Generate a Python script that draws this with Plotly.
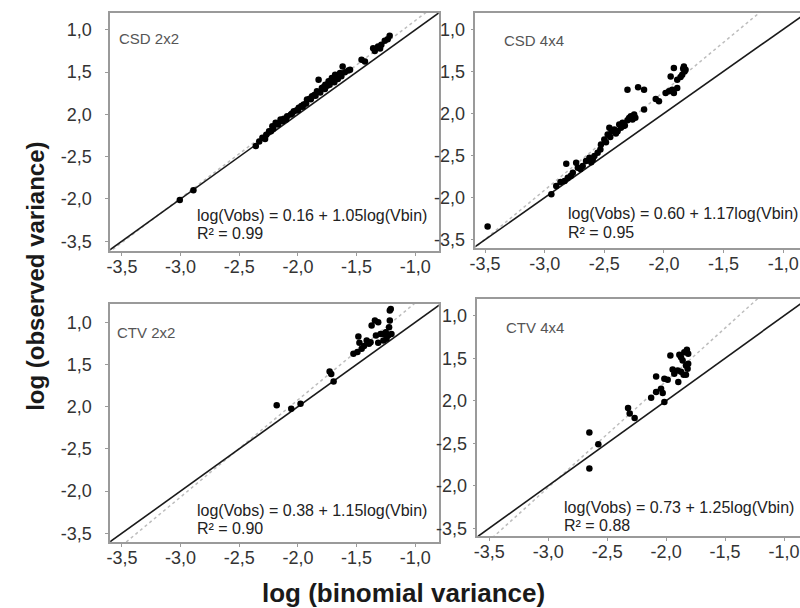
import plotly.graph_objects as go

# ---------------- data ----------------
panel_names = ["CSD 2x2", "CSD 4x4", "CTV 2x2", "CTV 4x4"]
intercepts = [0.16, 0.60, 0.38, 0.73]
slopes = [1.05, 1.17, 1.15, 1.25]
r_squared = ["0.99", "0.95", "0.90", "0.88"]

x_tick_vals = [-3.5, -3.0, -2.5, -2.0, -1.5, -1.0]
x_tick_text = ["-3,5", "-3,0", "-2,5", "-2,0", "-1,5", "-1,0"]
y_tick_vals = [-1.0, -1.5, -2.0, -2.5, -3.0, -3.5]
y_tick_text = ["1,0", "1,5", "2,0", "-2,5", "-2,0", "-3,5"]

csd22_x = [-3.007, -2.891, -2.359, -2.303, -2.246, -2.218, -2.190, -2.210, -2.148, -2.120,
           -2.092, -2.060, -2.035, -2.010, -1.993, -1.970, -1.951, -1.923, -1.900, -1.880,
           -1.860, -1.838, -1.824, -1.796, -1.780, -1.767, -1.750, -1.739, -1.711, -1.700,
           -1.683, -1.641, -1.619, -1.556, -1.458, -1.429, -1.359, -1.345, -1.317, -1.289,
           -1.300, -1.260, -1.218, -1.235, -2.280, -2.170,
           -2.270, -2.230, -2.170, -2.130, -2.100, -2.050, -2.000, -1.960, -1.930, -1.890,
           -1.850, -1.810, -1.770, -1.730, -1.690, -1.660, -1.630, -1.600, -2.330, -1.570]
csd22_y = [-3.013, -2.896, -2.374, -2.276, -2.198, -2.139, -2.099, -2.170, -2.060, -2.050,
           -2.021, -2.000, -1.962, -1.950, -1.922, -1.900, -1.883, -1.824, -1.815, -1.786,
           -1.770, -1.727, -1.589, -1.687, -1.675, -1.648, -1.660, -1.609, -1.569, -1.600,
           -1.530, -1.510, -1.432, -1.471, -1.353, -1.373, -1.216, -1.250, -1.196, -1.177,
           -1.220, -1.130, -1.071, -1.110, -2.290, -2.110,
           -2.240, -2.200, -2.120, -2.080, -2.060, -1.990, -1.950, -1.910, -1.870, -1.820,
           -1.780, -1.740, -1.700, -1.650, -1.620, -1.580, -1.550, -1.500, -2.320, -1.480]

csd44_x = [-3.478, -2.944, -2.903, -2.867, -2.833, -2.819, -2.806, -2.764, -2.736, -2.722,
           -2.681, -2.653, -2.625, -2.597, -2.583, -2.556, -2.533, -2.528, -2.500, -2.486,
           -2.472, -2.458, -2.439, -2.417, -2.403, -2.389, -2.375, -2.361, -2.347, -2.328,
           -2.306, -2.292, -2.278, -2.250, -2.264, -2.306, -2.217, -2.167, -2.167, -2.069,
           -2.042, -1.986, -1.958, -1.931, -1.917, -1.889, -1.944, -1.917, -1.889, -1.861,
           -1.847, -1.833, -1.828, -1.819, -1.839,
           -2.780, -2.700, -2.610, -2.450, -2.340, -2.240]
csd44_y = [-3.342, -2.960, -2.861, -2.814, -2.802, -2.597, -2.763, -2.703, -2.585, -2.644,
           -2.625, -2.565, -2.526, -2.546, -2.506, -2.467, -2.427, -2.368, -2.309, -2.341,
           -2.250, -2.171, -2.211, -2.191, -2.238, -2.211, -2.132, -2.171, -2.112, -2.144,
           -2.080, -2.053, -2.033, -2.013, -2.073, -1.718, -1.690, -1.718, -1.954, -1.828,
           -1.856, -1.757, -1.737, -1.718, -1.757, -1.698, -1.560, -1.461, -1.599, -1.568,
           -1.540, -1.442, -1.501, -1.481, -1.470,
           -2.740, -2.660, -2.580, -2.280, -2.150, -2.050]

ctv22_x = [-2.181, -2.057, -1.978, -1.730, -1.716, -1.696, -1.527, -1.493, -1.485, -1.476,
           -1.457, -1.437, -1.414, -1.395, -1.381, -1.372, -1.344, -1.316, -1.335, -1.316,
           -1.296, -1.268, -1.251, -1.231, -1.223, -1.217, -1.217, -1.209, -1.203, -1.245,
           -1.272]
ctv22_y = [-1.984, -2.024, -1.965, -1.583, -1.614, -1.701, -1.374, -1.354, -1.169, -1.244,
           -1.315, -1.283, -1.217, -1.256, -1.236, -1.039, -0.980, -1.000, -1.157, -1.244,
           -1.138, -1.138, -1.118, -1.157, -1.059, -0.980, -0.862, -0.843, -1.138, -1.197,
           -1.217]

ctv44_x = [-2.651, -2.651, -2.575, -2.323, -2.309, -2.267, -2.127, -2.085, -2.043, -2.029,
           -2.085, -2.015, -1.987, -2.015, -1.964, -1.945, -1.931, -1.902, -1.897, -1.888,
           -1.874, -1.860, -1.846, -1.832, -1.832, -1.824, -1.818, -1.813, -1.813, -1.852,
           -1.874]
ctv44_y = [-2.375, -2.797, -2.512, -2.086, -2.152, -2.203, -1.965, -1.898, -1.859, -1.910,
           -1.715, -1.742, -1.754, -2.016, -1.469, -1.633, -1.684, -1.645, -1.781, -1.461,
           -1.488, -1.527, -1.430, -1.586, -1.695, -1.402, -1.625, -1.566, -1.449, -1.695,
           -1.660]

series_x = [csd22_x, csd44_x, ctv22_x, ctv44_x]
series_y = [csd22_y, csd44_y, ctv22_y, ctv44_y]

# ---------------- layout specs ----------------
W, H = 800, 608
# (left, right, top, bottom) in pixels
boxes = [(105, 436, 13, 252), (473, 800, 13, 249), (105, 436, 305, 544), (475, 800, 300, 538)]
x_ranges = [[-3.60, -0.80], [-3.58, -0.86], [-3.60, -0.80], [-3.60, -0.865]]
y_ranges = [[-3.618, -0.80], [-3.60, -0.807], [-3.606, -0.784], [-3.594, -0.804]]
mirror_y = [True, False, True, False]
# annotation positions in axis-domain fractions
label_pos = [(0.021, 0.891), (0.083, 0.881), (0.015, 0.879), (0.083, 0.878)]
eq_pos = [(0.257, 0.151, 0.075), (0.278, 0.148, 0.068), (0.257, 0.134, 0.059), (0.262, 0.122, 0.046)]

FONT = "Liberation Sans, Arial, sans-serif"
AX_COLOR = "#9a9a9a"

fig = go.Figure()
layout = dict(width=W, height=H, margin=dict(l=0, r=0, t=0, b=0),
              paper_bgcolor="white", plot_bgcolor="white", showlegend=False,
              font=dict(family=FONT, color="#333"))
annotations = []

for i in range(4):
    n = "" if i == 0 else str(i + 1)
    xa, ya = "x" + n, "y" + n
    l, r, t, b = boxes[i]
    layout["xaxis" + n] = dict(
        domain=[l / W, r / W], range=x_ranges[i], anchor=ya,
        tickvals=x_tick_vals, ticktext=x_tick_text, ticks="outside", ticklen=3,
        ticklabelstandoff=-5,
        tickcolor=AX_COLOR, tickwidth=1, showgrid=False, zeroline=False,
        showline=True, linecolor=AX_COLOR, linewidth=1.5, mirror=True,
        tickfont=dict(size=18, color="#333", family=FONT))
    layout["yaxis" + n] = dict(
        domain=[1 - b / H, 1 - t / H], range=y_ranges[i], anchor=xa,
        tickvals=y_tick_vals, ticktext=y_tick_text, ticks="outside", ticklen=3,
        ticklabelstandoff=10 if i in (0, 2) else 2,
        tickcolor=AX_COLOR, tickwidth=1, showgrid=False, zeroline=False,
        showline=True, linecolor=AX_COLOR, linewidth=1.5, mirror=mirror_y[i],
        tickfont=dict(size=18, color="#333", family=FONT))

    x0, x1 = x_ranges[i][0] - 0.1, x_ranges[i][1] + 0.1
    a, s = intercepts[i], slopes[i]
    # regression (dotted grey)
    fig.add_trace(go.Scatter(x=[x0, x1], y=[a + s * x0, a + s * x1], mode="lines",
                             line=dict(color="#bdbdbd", width=1.5, dash="dot"),
                             xaxis=xa, yaxis=ya, hoverinfo="skip"))
    # identity (solid black)
    fig.add_trace(go.Scatter(x=[x0, x1], y=[x0, x1], mode="lines",
                             line=dict(color="#1a1a1a", width=1.6),
                             xaxis=xa, yaxis=ya, hoverinfo="skip"))
    # points
    fig.add_trace(go.Scatter(x=series_x[i], y=series_y[i], mode="markers",
                             marker=dict(color="black", size=6.5),
                             xaxis=xa, yaxis=ya, cliponaxis=False))

    lx, ly = label_pos[i]
    annotations.append(dict(text=panel_names[i], xref=xa + " domain", yref=ya + " domain",
                            x=lx, y=ly, xanchor="left", yanchor="middle", showarrow=False,
                            font=dict(size=15, color="#555", family=FONT)))
    ex, ey1, ey2 = eq_pos[i]
    annotations.append(dict(text=f"log(Vobs) = {a:.2f} + {s:.2f}log(Vbin)",
                            xref=xa + " domain", yref=ya + " domain",
                            x=ex, y=ey1, xanchor="left", yanchor="middle", showarrow=False,
                            font=dict(size=16, color="#222", family=FONT)))
    annotations.append(dict(text=f"R² = {r_squared[i]}",
                            xref=xa + " domain", yref=ya + " domain",
                            x=ex, y=ey2, xanchor="left", yanchor="middle", showarrow=False,
                            font=dict(size=16, color="#222", family=FONT)))

annotations.append(dict(text="<b>log (observed variance)</b>", xref="paper", yref="paper",
                        x=29 / W, y=1 - 277 / H, xanchor="center", yanchor="middle",
                        textangle=-90, showarrow=False,
                        font=dict(size=24, color="#1a1a1a", family=FONT)))
annotations.append(dict(text="<b>log (binomial variance)</b>", xref="paper", yref="paper",
                        x=400 / W, y=1 - 595 / H, xanchor="center", yanchor="middle",
                        showarrow=False,
                        font=dict(size=26, color="#1a1a1a", family=FONT)))

layout["annotations"] = annotations
fig.update_layout(**layout)
# remove the default 8px page margin so the figure sits at the window's top-left corner
fig.write_html("out.html", config={"displayModeBar": False},
               post_script="document.body.style.margin='0';document.body.style.overflow='hidden';")
